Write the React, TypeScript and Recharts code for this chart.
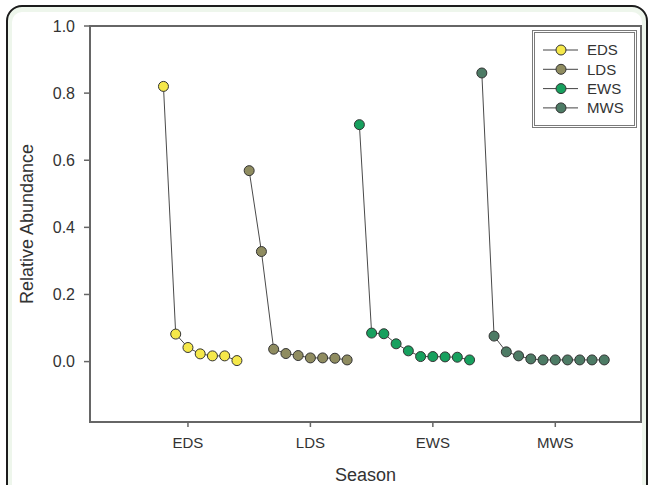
import React from 'react';
import { LineChart, Line, XAxis, YAxis, Legend, ReferenceArea } from 'recharts';

const seasons = ['EDS', 'LDS', 'EWS', 'MWS'];
const seasonTicks = [1, 2, 3, 4];
const yTicks = [0, 0.2, 0.4, 0.6, 0.8, 1.0];

const edsX = [0.8, 0.9, 1.0, 1.1, 1.2, 1.3, 1.4];
const edsY = [0.82, 0.082, 0.042, 0.023, 0.017, 0.017, 0.003];
const ldsX = [1.5, 1.6, 1.7, 1.8, 1.9, 2.0, 2.1, 2.2, 2.3];
const ldsY = [0.569, 0.328, 0.037, 0.024, 0.018, 0.011, 0.011, 0.01, 0.005];
const ewsX = [2.4, 2.5, 2.6, 2.7, 2.8, 2.9, 3.0, 3.1, 3.2, 3.3];
const ewsY = [0.706, 0.085, 0.083, 0.053, 0.032, 0.015, 0.015, 0.014, 0.013, 0.005];
const mwsX = [3.4, 3.5, 3.6, 3.7, 3.8, 3.9, 4.0, 4.1, 4.2, 4.3, 4.4];
const mwsY = [0.86, 0.076, 0.029, 0.017, 0.008, 0.005, 0.005, 0.005, 0.005, 0.005, 0.005];

const seriesColors = ['#F5E84A', '#8F8C60', '#17A05E', '#4D7B65'];

const zip = (xs: number[], ys: number[]) => xs.map((x, i) => ({ x, y: ys[i] }));
const seriesData = [zip(edsX, edsY), zip(ldsX, ldsY), zip(ewsX, ewsY), zip(mwsX, mwsY)];

const FONT = '"Liberation Sans", Arial, sans-serif';

const renderLegend = () => (
  <div
    style={{
      width: 105,
      height: 98,
      boxSizing: 'border-box',
      border: '3px double #7a7a7a',
      background: '#fff',
    }}
  >
    <svg width={99} height={92} style={{ display: 'block' }}>
      {seasons.map((s, i) => {
        const cy = 17 + i * 19.3;
        return (
          <g key={s}>
            <line x1={8} x2={43} y1={cy} y2={cy} stroke="#444" strokeWidth={1} />
            <circle cx={26} cy={cy} r={5} fill={seriesColors[i]} stroke="#333" strokeWidth={1} />
            <text x={52} y={cy} dy="0.36em" fontSize={15} fill="#333" fontFamily={FONT}>
              {s}
            </text>
          </g>
        );
      })}
    </svg>
  </div>
);

export default function App() {
  return (
    <div
      style={{
        position: 'absolute',
        left: 0,
        top: 0,
        width: 650,
        height: 485,
        overflow: 'hidden',
        background: '#fff',
        fontFamily: FONT,
      }}
    >
      <div
        style={{
          position: 'absolute',
          left: 6,
          top: 5,
          width: 642,
          height: 600,
          boxSizing: 'border-box',
          border: '2.5px solid #1c1c1c',
          borderRadius: 16,
          background: '#eef6ec',
        }}
      />
      <div
        style={{
          position: 'absolute',
          left: 12,
          top: 12,
          width: 630,
          height: 600,
          background: '#fff',
          borderRadius: 10,
        }}
      />
      <div style={{ position: 'absolute', left: 0, top: 0 }}>
        <LineChart width={650} height={485} margin={{ top: 26, right: 9, left: 0, bottom: 0 }}>
          <XAxis
            dataKey="x"
            type="number"
            domain={[0.2, 4.7]}
            ticks={seasonTicks}
            tickFormatter={(v: number) => seasons[v - 1]}
            allowDataOverflow
            height={63}
            tickSize={5}
            tickMargin={10}
            axisLine={{ stroke: '#666', strokeWidth: 2 }}
            tickLine={{ stroke: '#666', strokeWidth: 1.5 }}
            tick={{ fill: '#333', fontSize: 15, fontFamily: FONT }}
            label={{
              value: 'Season',
              position: 'insideBottom',
              offset: 4,
              fill: '#333',
              fontSize: 18,
              fontFamily: FONT,
            }}
          />
          <YAxis
            type="number"
            domain={[-0.18, 1.0]}
            ticks={yTicks}
            tickFormatter={(v: number) => v.toFixed(1)}
            allowDataOverflow
            width={90}
            tickSize={6}
            tickMargin={9}
            axisLine={{ stroke: '#666', strokeWidth: 2 }}
            tickLine={{ stroke: '#666', strokeWidth: 1.5 }}
            tick={{ fill: '#333', fontSize: 16, fontFamily: FONT }}
            label={{
              value: 'Relative Abundance',
              angle: -90,
              position: 'insideLeft',
              offset: 27,
              style: { textAnchor: 'middle' },
              fill: '#333',
              fontSize: 18,
              fontFamily: FONT,
            }}
          />
          <ReferenceArea
            x1={0.2}
            x2={4.7}
            y1={-0.18}
            y2={1.0}
            fill="none"
            stroke="#666"
            strokeWidth={2}
            ifOverflow="visible"
          />
          <Legend
            layout="horizontal"
            verticalAlign="middle"
            align="center"
            content={renderLegend}
            wrapperStyle={{ position: 'absolute', left: 532, top: 30, width: 105, height: 98 }}
          />
          {seasons.map((s, i) => (
            <Line
              key={s}
              name={s}
              data={seriesData[i]}
              dataKey="y"
              stroke="#4a4a4a"
              strokeWidth={1}
              dot={{ r: 5, fill: seriesColors[i], stroke: '#333', strokeWidth: 1, fillOpacity: 1 }}
              activeDot={false}
              isAnimationActive={false}
            />
          ))}
        </LineChart>
      </div>
    </div>
  );
}
